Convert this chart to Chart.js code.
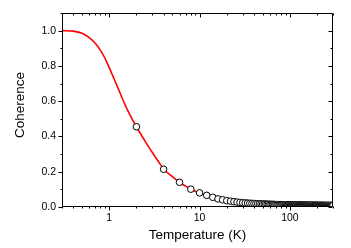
<!DOCTYPE html>
<html>
<head>
<meta charset="utf-8">
<script src="https://cdn.jsdelivr.net/npm/chart.js@4.4.1/dist/chart.umd.min.js"></script>
<style>
html,body{margin:0;padding:0;background:#fff;}
canvas{display:block;}
</style>
</head>
<body>
<canvas id="c" width="351" height="248"></canvas>
<script>
// ---- data ----
const curveT = [0.3, 0.4, 0.5, 0.6, 0.7, 0.8, 0.9, 1.0, 1.2, 1.4, 1.6, 1.8, 2, 2.5, 3, 3.5, 4, 5, 6, 7, 8, 9, 10, 12, 15, 20, 30, 50, 100, 200, 300];
const curveC = [1.0, 0.997, 0.985, 0.96, 0.928, 0.888, 0.842, 0.79, 0.696, 0.614, 0.548, 0.497, 0.455, 0.372, 0.309, 0.258, 0.216, 0.172, 0.140, 0.118, 0.101, 0.089, 0.080, 0.066, 0.051, 0.036, 0.0243, 0.017, 0.0115, 0.0088, 0.0078];

const markerT = [2,4,6,8,10,12,14,16,18,20,22,24,26,28,30,32,34,36,38,40,42,44,46,48,50,52,54,56,58,60,62,64,66,68,70,72,74,76,78,80,82,84,86,88,90,92,94,96,98,100,102,104,106,108,110,112,114,116,118,120,122,124,126,128,130,132,134,136,138,140,142,144,146,148,150,152,154,156,158,160,162,164,166,168,170,172,174,176,178,180,182,184,186,188,190,192,194,196,198,200,202,204,206,208,210,212,214,216,218,220,222,224,226,228,230,232,234,236,238,240,242,244,246,248,250,252,254,256,258,260,262,264,266,268,270,272,274,276,278,280,282,284,286,288,290,292,294,296,298,300];
const markerC = [0.455,0.214,0.140,0.101,0.080,0.066,0.055,0.046,0.041,0.036,0.033,0.030,0.028,0.026,
0.0243,0.0232,0.0222,0.0213,0.0205,0.0198,0.0191,0.0185,0.0180,0.0175,0.0170,0.0166,0.0162,0.0158,0.0155,0.0152,0.0149,0.0146,0.0143,0.0141,0.0139,0.0136,0.0134,0.0132,0.0131,0.0129,0.0127,0.0125,0.0124,0.0123,0.0121,0.0120,0.0119,0.0117,0.0116,0.0115,
0.0114,0.0113,0.0112,0.0111,0.0110,0.0109,0.0108,0.0107,0.0107,0.0106,0.0105,0.0104,0.0104,0.0103,0.0102,0.0102,0.0101,0.0100,0.0100,0.0099,0.0099,0.0098,0.0098,0.0097,0.0097,0.0096,0.0096,0.0095,0.0095,0.0094,0.0094,0.0094,0.0093,0.0093,0.0092,0.0092,0.0092,0.0091,0.0091,0.0091,0.0090,0.0090,0.0090,0.0089,0.0089,0.0089,0.0088,0.0088,0.0088,0.0088,
0.0087,0.0087,0.0087,0.0086,0.0086,0.0086,0.0086,0.0085,0.0085,0.0085,0.0085,0.0085,0.0084,0.0084,0.0084,0.0084,0.0084,0.0083,0.0083,0.0083,0.0083,0.0083,0.0082,0.0082,0.0082,0.0082,0.0082,0.0081,0.0081,0.0081,0.0081,0.0081,0.0081,0.0081,0.0080,0.0080,0.0080,0.0080,0.0080,0.0080,0.0080,0.0079,0.0079,0.0079,0.0079,0.0079,0.0079,0.0079,0.0078,0.0078];

const xTicks = [1, 10, 100];
const yTicks = [0, 0.2, 0.4, 0.6, 0.8, 1.0];
const xTitle = 'Temperature (K)';
const yTitle = 'Coherence';

const FONT = "'Liberation Sans', Arial, sans-serif";

// draws the frame, tick marks and y title using the chart's own scales
const framePlugin = {
  id: 'frame',
  afterDraw(chart) {
    const ctx = chart.ctx;
    const xs = chart.scales.x, ys = chart.scales.y;
    const a = chart.chartArea;
    const L = Math.round(a.left) + 0.5, R = Math.round(a.right) - 0.5;
    const T = Math.round(a.top) + 0.5, B = Math.round(a.bottom) - 0.5;
    ctx.save();
    ctx.strokeStyle = '#000';
    ctx.lineWidth = 1;
    ctx.beginPath();
    ctx.moveTo(L, T); ctx.lineTo(R, T); ctx.lineTo(R, B); ctx.lineTo(L, B); ctx.closePath();
    for (let d = 0.1; d <= 100; d *= 10) {
      for (let m = 1; m <= 9; m++) {
        const v = m * d;
        if (v < xs.min * 0.999 || v > xs.max * 1.001) continue;
        const px = Math.round(xs.getPixelForValue(v)) + 0.5;
        const len = m === 1 ? 4 : 2;
        ctx.moveTo(px, B); ctx.lineTo(px, B + len);
        ctx.moveTo(px, T); ctx.lineTo(px, T + len);
      }
    }
    for (let i = 0; i <= 11; i++) {
      const v = i / 10;
      if (v > ys.max + 1e-9) continue;
      const py = Math.round(ys.getPixelForValue(v)) + 0.5;
      const len = i % 2 === 0 ? 4 : 2;
      ctx.moveTo(L - len, py); ctx.lineTo(L, py);
      ctx.moveTo(R, py); ctx.lineTo(R - len, py);
    }
    ctx.stroke();
    // y axis title
    ctx.fillStyle = '#000';
    ctx.font = "13.5px " + FONT;
    ctx.textAlign = 'center';
    ctx.textBaseline = 'middle';
    ctx.translate(20, (a.top + a.bottom) / 2 - 5);
    ctx.rotate(-Math.PI / 2);
    ctx.fillText(yTitle, 0, 0);
    ctx.restore();
  }
};

new Chart(document.getElementById('c'), {
  type: 'scatter',
  data: {
    datasets: [
      {
        data: markerT.map((t, i) => ({x: t, y: markerC[i]})),
        showLine: false,
        pointRadius: 3.3,
        pointBackgroundColor: '#ffffff',
        pointBorderColor: '#000000',
        pointBorderWidth: 1,
        clip: 0,
        order: 0
      },
      {
        type: 'line',
        data: curveT.map((t, i) => ({x: t, y: curveC[i]})),
        borderColor: '#ff0000',
        borderWidth: 1.6,
        pointRadius: 0,
        fill: false,
        cubicInterpolationMode: 'monotone',
        order: 1
      }
    ]
  },
  options: {
    responsive: false,
    animation: false,
    devicePixelRatio: 1,
    layout: {padding: {top: 13, right: 18, left: 0, bottom: 0}},
    plugins: {legend: {display: false}, tooltip: {enabled: false}},
    scales: {
      x: {
        type: 'logarithmic',
        min: 0.3, max: 300,
        afterBuildTicks: s => { s.ticks = xTicks.map(v => ({value: v})); },
        afterFit: s => { s.height = 41; },
        grid: {display: false, drawTicks: false},
        border: {display: false},
        ticks: {
          callback: v => String(v),
          color: '#000', padding: 5, maxRotation: 0, autoSkip: false,
          font: {family: FONT, size: 10.5}
        },
        title: {display: true, text: xTitle, color: '#000',
          font: {family: FONT, size: 13.5}, padding: {top: 0, bottom: 5}}
      },
      y: {
        type: 'linear',
        min: 0, max: 1.1,
        afterBuildTicks: s => { s.ticks = yTicks.map(v => ({value: v})); },
        afterFit: s => { s.width = 62; },
        grid: {display: false, drawTicks: false},
        border: {display: false},
        ticks: {
          callback: v => Number(v).toFixed(1),
          color: '#000', padding: 6,
          font: {family: FONT, size: 10.5}
        },
        title: {display: false}
      }
    }
  },
  plugins: [framePlugin]
});
</script>
</body>
</html>
